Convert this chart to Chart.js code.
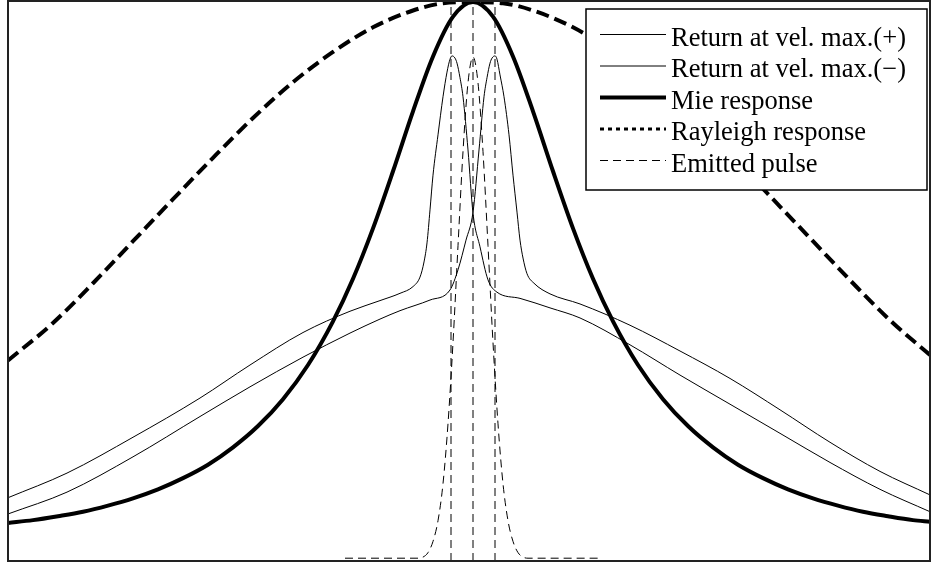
<!DOCTYPE html>
<html>
<head>
<meta charset="utf-8">
<script src="https://cdn.jsdelivr.net/npm/chart.js@4.4.1/dist/chart.umd.min.js"></script>
<style>
  html, body { margin: 0; padding: 0; background: #fff; }
  canvas { display: block; }
</style>
</head>
<body>
<canvas id="chart" width="932" height="565"></canvas>
<script>
// frequency offset (arbitrary units) and normalised intensity
const rayleighX = [-4.65, -4.2, -3.8, -3.4, -3.0, -2.6, -2.2, -1.8, -1.4, -1.0, -0.6, -0.3, 0, 0.3, 0.6, 1.0, 1.4, 1.8, 2.2, 2.6, 3.0, 3.4, 3.8, 4.2, 4.57];
const rayleighY = [0.358, 0.425, 0.496, 0.571, 0.646, 0.720, 0.791, 0.855, 0.909, 0.953, 0.983, 0.996, 0.998, 0.996, 0.983, 0.953, 0.909, 0.855, 0.791, 0.720, 0.646, 0.571, 0.496, 0.425, 0.368];

const mieX = [-4.65, -4.4, -4.15, -3.9, -3.65, -3.4, -3.15, -2.9, -2.65, -2.4, -2.15, -1.9, -1.65, -1.4, -1.2, -1.0, -0.8, -0.6, -0.4, -0.2, 0,
              0.2, 0.4, 0.6, 0.8, 1.0, 1.2, 1.4, 1.65, 1.9, 2.15, 2.4, 2.65, 2.9, 3.15, 3.4, 3.65, 3.9, 4.15, 4.4, 4.57];
const mieY = [0.068, 0.073, 0.080, 0.088, 0.099, 0.112, 0.128, 0.148, 0.172, 0.203, 0.241, 0.289, 0.350, 0.428, 0.504, 0.594, 0.696, 0.803, 0.901, 0.972, 0.998,
              0.972, 0.901, 0.803, 0.696, 0.594, 0.504, 0.428, 0.350, 0.289, 0.241, 0.203, 0.172, 0.148, 0.128, 0.112, 0.099, 0.088, 0.080, 0.073, 0.070];

const plusX = [-4.65, -4.06, -3.40, -2.73, -2.23, -1.70, -1.23, -0.93, -0.73, -0.60, -0.53, -0.49, -0.46, -0.43, -0.40, -0.35, -0.30, -0.26, -0.23, -0.21, -0.18, -0.16, -0.13, -0.10, -0.05, 0.00, 0.07, 0.15, 0.24, 0.47, 0.77, 1.07, 1.57, 2.07, 2.57, 3.07, 3.57, 4.07, 4.57];
const plusY = [0.113, 0.157, 0.221, 0.291, 0.350, 0.408, 0.446, 0.465, 0.478, 0.490, 0.507, 0.534, 0.568, 0.627, 0.689, 0.761, 0.829, 0.873, 0.896, 0.902, 0.898, 0.889, 0.863, 0.829, 0.734, 0.621, 0.561, 0.502, 0.480, 0.469, 0.452, 0.434, 0.386, 0.332, 0.280, 0.228, 0.176, 0.128, 0.088];

const minusX = [-4.65, -4.06, -3.40, -2.73, -2.23, -1.70, -1.23, -0.93, -0.73, -0.43, -0.23, -0.15, -0.07, 0.00, 0.06, 0.11, 0.14, 0.17, 0.19, 0.22, 0.24, 0.27, 0.31, 0.36, 0.40, 0.44, 0.47, 0.50, 0.54, 0.61, 0.77, 1.07, 1.57, 2.07, 2.57, 3.07, 3.57, 4.07, 4.57];
const minusY = [0.084, 0.123, 0.186, 0.258, 0.311, 0.364, 0.407, 0.432, 0.447, 0.466, 0.484, 0.520, 0.573, 0.623, 0.734, 0.829, 0.863, 0.889, 0.898, 0.902, 0.896, 0.868, 0.829, 0.761, 0.689, 0.623, 0.573, 0.541, 0.513, 0.496, 0.477, 0.459, 0.421, 0.375, 0.326, 0.270, 0.212, 0.160, 0.118];

const pulseX = [-1.28, -0.9, -0.55, -0.5, -0.45, -0.4, -0.35, -0.3, -0.25, -0.2, -0.15, -0.1, -0.05, 0, 0.05, 0.1, 0.15, 0.2, 0.25, 0.3, 0.35, 0.4, 0.45, 0.5, 0.55, 0.9, 1.27];
const pulseY = [0.005, 0.005, 0.005, 0.007, 0.015, 0.035, 0.072, 0.138, 0.245, 0.390, 0.563, 0.731, 0.854, 0.900, 0.854, 0.731, 0.563, 0.390, 0.245, 0.138, 0.072, 0.035, 0.015, 0.007, 0.005, 0.005, 0.005];

// vertical guide lines at the emitted and shifted frequencies
const markerX = [-0.22, 0, 0.22];

const toPoints = (xs, ys) => xs.map((x, i) => ({ x: x, y: ys[i] }));

const curve = {
  borderColor: '#000',
  pointRadius: 0,
  fill: false,
  cubicInterpolationMode: 'monotone'
};

const datasets = [
  Object.assign({}, curve, { label: 'Return at vel. max.(+)', data: toPoints(plusX, plusY), borderWidth: 1 }),
  Object.assign({}, curve, { label: 'Return at vel. max.(\u2212)', data: toPoints(minusX, minusY), borderWidth: 1 }),
  Object.assign({}, curve, { label: 'Mie response', data: toPoints(mieX, mieY), borderWidth: 4 }),
  Object.assign({}, curve, { label: 'Rayleigh response', data: toPoints(rayleighX, rayleighY), borderWidth: 4,
    borderDash: [13, 6], legendDash: [4, 4], legendWidth: 3 }),
  Object.assign({}, curve, { label: 'Emitted pulse', data: toPoints(pulseX, pulseY), borderWidth: 1,
    borderDash: [8, 5] })
];

markerX.forEach(x => {
  datasets.push({
    data: [{ x: x, y: 0 }, { x: x, y: 1 }],
    borderColor: '#000',
    borderWidth: 1,
    borderDash: [8, 5],
    pointRadius: 0
  });
});

// plot frame round the chart area
const frame = {
  id: 'frame',
  afterDatasetsDraw(chart) {
    const a = chart.chartArea;
    const ctx = chart.ctx;
    ctx.save();
    ctx.strokeStyle = '#222';
    ctx.lineWidth = 2;
    ctx.strokeRect(a.left, a.top, a.right - a.left, a.bottom - a.top);
    ctx.restore();
  }
};

// boxed legend inside the top right corner
const boxLegend = {
  id: 'boxLegend',
  afterDraw(chart) {
    const ctx = chart.ctx;
    const items = chart.data.datasets.filter(d => d.label);
    const left = 586, top = 9, right = 927, bottom = 190;
    ctx.save();
    ctx.fillStyle = '#fff';
    ctx.fillRect(left, top, right - left, bottom - top);
    ctx.strokeStyle = '#000';
    ctx.lineWidth = 1.5;
    ctx.strokeRect(left, top, right - left, bottom - top);
    ctx.font = '26.5px "Liberation Serif", "Times New Roman", serif';
    ctx.fillStyle = '#000';
    ctx.textBaseline = 'alphabetic';
    items.forEach((d, i) => {
      const y = 34.5 + i * 31.5;
      ctx.beginPath();
      ctx.setLineDash(d.legendDash || d.borderDash || []);
      ctx.lineWidth = d.legendWidth || d.borderWidth;
      ctx.moveTo(600, y);
      ctx.lineTo(666, y);
      ctx.stroke();
      ctx.setLineDash([]);
      ctx.fillText(d.label, 671, y + 11);
    });
    ctx.restore();
  }
};

new Chart(document.getElementById('chart').getContext('2d'), {
  type: 'line',
  data: { datasets: datasets },
  options: {
    responsive: false,
    animation: false,
    layout: { padding: { left: 8, top: 1, right: 2, bottom: 4 } },
    scales: {
      x: { type: 'linear', min: -4.65, max: 4.57, display: false },
      y: { min: 0, max: 1, display: false }
    },
    plugins: {
      legend: { display: false },
      tooltip: { enabled: false }
    }
  },
  plugins: [frame, boxLegend]
});
</script>
</body>
</html>
